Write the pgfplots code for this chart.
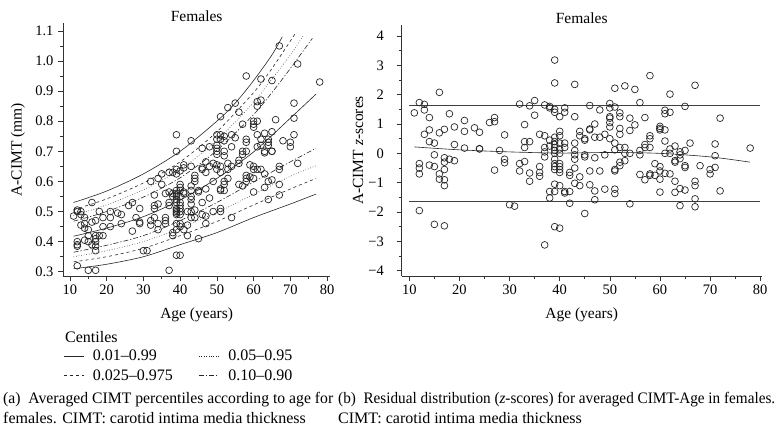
\documentclass[border=0pt]{standalone}
\usepackage{fontspec}
\setmainfont{Liberation Serif}
\usepackage{graphicx}
\usepackage{pgfplots}
\pgfplotsset{compat=1.18}
\begin{document}
\fontsize{14bp}{17bp}\selectfont
\begin{tikzpicture}
\path[use as bounding box] (0,0) rectangle (782bp,-440bp);
\pgfplotsset{
  common/.style={
    scale only axis,
    anchor=south west,
    axis lines*=left,
    axis line style={black!80, line width=0.6bp},
    tick align=outside,
    major tick length=5bp,
    minor tick length=3bp,
    tick style={black!80, line width=0.6bp},
    minor x tick num=1,
    minor y tick num=1,
    /pgf/number format/assume math mode=true,
    tick label style={font=\fontsize{14.5bp}{17bp}\selectfont},
    label style={font=\fontsize{15.5bp}{18bp}\selectfont},
    title style={font=\fontsize{15.5bp}{18bp}\selectfont, at={(0.5,1)}, anchor=base, yshift=-4bp},
    xtick={10,20,...,80},
    xticklabel style={anchor=base, yshift=-13bp},
    xlabel style={at={(axis description cs:0.5,0)}, anchor=base, yshift=-42bp},
    clip=false,
  },
  pts/.style={only marks, mark=o, mark size=3.4bp, black!85, mark options={line width=0.7bp}},
  dashdot/.style={dash pattern=on 5bp off 2bp on 1.2bp off 2bp},
}
% ---------------- left panel ----------------
\begin{axis}[common,
  at={(63.3bp,-276bp)}, width=266.7bp, height=252.7bp,
  xmin=8.2, xmax=80.8, ymin=0.286, ymax=1.125,
  ytick={0.3,0.4,...,1.1},
  yticklabel style={/pgf/number format/fixed, /pgf/number format/fixed zerofill, /pgf/number format/precision=1},
  title={Females},
  xlabel={Age (years)},
  ylabel={A-CIMT (mm)},
  ylabel style={at={(axis description cs:-0.17,0.5)}, anchor=center},
  legend columns=2,
  legend cell align=left,
  legend style={draw=none, fill=none, at={(axis description cs:-0.012,-0.277)}, anchor=north west,
    font=\fontsize{16bp}{18bp}\selectfont, row sep=2.5bp,
    /tikz/every even column/.append style={column sep=24bp}},
  legend image code/.code={\draw[#1, line width=0.6bp] (0bp,0bp) -- (20bp,0bp); \path (27bp,0bp);},
]
\addlegendimage{black!85, solid}
\addlegendentry{0.01--0.99}
\addlegendimage{black!85, dotted}
\addlegendentry{0.05--0.95}
\addlegendimage{black!85, dashed}
\addlegendentry{0.025--0.975}
\addlegendimage{black!85, dashdot}
\addlegendentry{0.10--0.90}
% centile curves
\addplot[forget plot, smooth, black!85, line width=0.6bp] coordinates {(11,0.530) (20,0.568) (30,0.625) (40,0.700) (50,0.800) (55,0.860) (60,0.935) (65,1.020) (67.8,1.080)};
\addplot[forget plot, smooth, black!85, line width=0.6bp, dashed] coordinates {(11,0.506) (20,0.542) (30,0.595) (40,0.665) (50,0.765) (60,0.895) (65,0.975) (71.3,1.090)};
\addplot[forget plot, smooth, black!85, line width=0.6bp, dotted] coordinates {(11,0.487) (20,0.522) (30,0.572) (40,0.640) (50,0.737) (60,0.862) (65,0.940) (70,1.020) (73.6,1.085)};
\addplot[forget plot, smooth, black!85, line width=0.6bp, dashdot] coordinates {(11,0.468) (20,0.500) (30,0.548) (40,0.612) (50,0.703) (60,0.822) (65,0.895) (70,0.975) (76,1.075)};
\addplot[forget plot, smooth, black!85, line width=0.6bp] coordinates {(11,0.418) (20,0.445) (30,0.483) (40,0.538) (50,0.610) (60,0.698) (70,0.810) (77,0.890)};
\addplot[forget plot, smooth, black!85, line width=0.6bp, dashdot] coordinates {(11,0.365) (20,0.388) (30,0.420) (40,0.470) (50,0.530) (60,0.598) (70,0.665) (77,0.710)};
\addplot[forget plot, smooth, black!85, line width=0.6bp, dotted] coordinates {(11,0.350) (20,0.370) (30,0.400) (40,0.445) (50,0.497) (60,0.557) (70,0.617) (77,0.652)};
\addplot[forget plot, smooth, black!85, line width=0.6bp, dashed] coordinates {(11,0.333) (20,0.350) (30,0.378) (40,0.420) (50,0.467) (60,0.522) (70,0.575) (77,0.610)};
\addplot[forget plot, smooth, black!85, line width=0.6bp] coordinates {(11,0.310) (20,0.325) (30,0.350) (40,0.390) (50,0.430) (60,0.480) (70,0.525) (77,0.558)};
% observations
\addplot[forget plot, pts] table {
x y
11 0.485
12 0.505
12 0.500
12 0.400
12 0.390
12 0.385
12 0.320
13 0.500
13 0.490
13 0.455
14 0.480
14 0.460
14 0.445
14 0.405
15 0.440
15 0.420
15 0.400
15 0.305
16 0.530
16 0.465
16 0.390
17 0.470
17 0.420
17 0.410
17 0.400
17 0.385
17 0.370
17 0.305
18 0.500
18 0.420
19 0.480
19 0.450
19 0.420
21 0.500
21 0.480
21 0.450
23 0.495
24 0.490
24 0.460
26 0.520
27 0.530
27 0.435
28 0.480
29 0.510
29 0.465
29 0.460
30 0.370
31 0.370
32 0.600
32 0.470
32 0.455
33 0.555
33 0.520
33 0.510
33 0.480
34 0.610
34 0.525
34 0.460
34 0.440
35 0.625
35 0.590
36 0.560
36 0.480
36 0.470
36 0.460
37 0.630
37 0.565
37 0.530
37 0.520
37 0.305
38 0.630
38 0.560
38 0.550
38 0.430
38 0.420
39 0.755
39 0.700
39 0.640
39 0.625
39 0.570
39 0.560
39 0.555
39 0.550
39 0.540
39 0.530
39 0.510
39 0.505
39 0.500
39 0.495
39 0.490
39 0.460
39 0.440
39 0.355
40 0.635
40 0.590
40 0.580
40 0.570
40 0.550
40 0.530
40 0.520
40 0.510
40 0.500
40 0.490
40 0.460
40 0.450
40 0.355
41 0.655
41 0.645
41 0.565
41 0.560
41 0.440
42 0.500
42 0.455
42 0.420
43 0.735
43 0.650
43 0.585
43 0.570
43 0.550
43 0.540
43 0.525
43 0.500
43 0.480
44 0.620
44 0.610
44 0.600
44 0.505
44 0.480
45 0.570
45 0.565
45 0.410
46 0.710
46 0.645
46 0.640
46 0.530
46 0.490
47 0.665
47 0.630
47 0.575
47 0.485
47 0.460
48 0.715
48 0.650
48 0.545
49 0.660
49 0.600
49 0.500
50 0.755
50 0.740
50 0.720
50 0.710
50 0.700
50 0.690
50 0.655
50 0.640
51 0.815
51 0.755
51 0.740
51 0.650
51 0.630
51 0.575
51 0.570
51 0.510
51 0.500
52 0.750
52 0.735
52 0.700
52 0.685
52 0.600
52 0.590
52 0.570
53 0.845
53 0.660
53 0.640
53 0.610
54 0.755
54 0.715
54 0.650
54 0.480
55 0.860
55 0.745
56 0.830
56 0.670
56 0.660
56 0.590
57 0.790
57 0.700
57 0.690
57 0.585
58 0.950
58 0.740
58 0.730
58 0.700
58 0.620
58 0.610
58 0.600
59 0.655
59 0.615
60 0.800
60 0.790
60 0.780
60 0.650
60 0.640
60 0.610
60 0.565
61 0.865
61 0.850
61 0.800
61 0.755
61 0.715
61 0.640
62 0.940
62 0.870
62 0.740
62 0.720
62 0.640
63 0.760
63 0.700
63 0.695
63 0.625
63 0.580
64 0.740
64 0.730
64 0.720
64 0.600
64 0.540
65 0.935
65 0.765
65 0.700
65 0.700
65 0.605
66 0.805
67 1.050
67 0.650
67 0.640
67 0.590
67 0.555
68 0.735
70 0.730
70 0.715
71 0.860
71 0.810
71 0.755
72 0.990
72 0.660
78 0.930
};
\end{axis}
% ---------------- right panel ----------------
\begin{axis}[common,
  at={(401.7bp,-276bp)}, width=360bp, height=251bp,
  xmin=8.48, xmax=80.3, ymin=-4.18, ymax=4.375,
  ytick={-4,-3,...,4},
  yticklabels={−4,−3,−2,−1,0,1,2,3,4},
  yticklabel style={xshift=-8bp},
  title={Females},
  xlabel={Age (years)},
  ylabel={A-CIMT \textit{z}-scores},
  ylabel style={at={(axis description cs:-0.121,0.5)}, anchor=center},
]
\addplot[black!75, line width=0.8bp] coordinates {(10,1.645) (80,1.645)};
\addplot[black!75, line width=0.8bp] coordinates {(10,-1.63) (80,-1.63)};
\addplot[smooth, black!85, line width=0.6bp] coordinates {(11,0.22) (20,0.12) (30,0.05) (40,0.01) (50,0.03) (60,0.0) (70,-0.12) (78,-0.30)};
\addplot[pts] table {
x y
11 1.38
12 1.73
12 -0.35
12 -0.50
12 -0.70
12 -1.95
13 1.67
13 1.48
13 0.65
14 1.22
14 0.80
14 0.40
14 -0.40
15 0.35
15 -0.05
15 -0.45
15 -2.42
16 2.08
16 0.70
16 -0.70
16 -0.88
17 0.82
17 -0.15
17 -0.30
17 -0.55
17 -0.90
17 -1.10
17 -2.47
18 1.35
18 -0.20
19 0.90
19 0.30
19 -0.25
21 1.12
21 0.75
21 0.18
23 0.87
24 0.72
24 0.15
24 0.16
26 1.05
27 1.22
27 1.08
27 -0.57
28 0.10
29 0.63
29 -0.20
29 -0.32
30 -1.75
31 -1.80
32 1.68
32 -0.35
32 -0.60
33 0.98
33 0.40
33 0.20
33 -0.28
34 1.62
34 0.40
34 -0.67
34 -0.95
35 1.80
35 1.30
36 0.65
36 -0.45
36 -0.65
36 -0.78
37 1.65
37 0.60
37 0.20
37 0.05
37 -0.12
37 -3.12
38 1.60
38 1.55
38 0.45
38 0.25
38 -1.30
38 -1.52
39 3.18
39 2.40
39 1.50
39 1.40
39 0.55
39 0.40
39 0.30
39 0.20
39 0.10
39 0.00
39 -0.20
39 -0.35
39 -0.45
39 -0.55
39 -1.05
39 -1.30
39 -2.50
40 1.25
40 0.75
40 0.60
40 0.35
40 0.15
40 0.00
40 -0.35
40 -0.45
40 -0.55
40 -0.65
40 -1.10
40 -2.55
41 1.55
41 1.40
41 0.35
41 0.20
41 -1.30
41 -1.35
42 -0.65
42 -0.75
42 -1.30
42 -1.70
43 2.35
43 1.25
43 0.35
43 0.10
43 -0.05
43 -0.20
43 -0.50
43 -1.02
44 0.75
44 0.60
44 -0.80
44 -1.10
45 0.50
45 0.45
45 -0.05
45 -0.12
45 -2.05
46 1.63
46 0.83
46 0.80
46 -0.60
46 -1.07
47 1.00
47 0.55
47 -0.15
47 -1.28
47 -1.58
48 1.48
48 0.55
48 -0.60
49 0.65
49 -0.05
49 -1.22
50 1.70
50 1.55
50 1.25
50 1.20
50 1.05
50 0.90
50 0.50
51 2.22
51 1.58
51 0.35
51 0.12
51 -0.55
51 -0.60
51 -1.22
51 -1.37
52 1.38
52 1.25
52 0.85
52 0.65
52 0.20
52 -0.30
52 -0.42
53 2.30
53 0.20
53 0.00
53 -0.25
54 1.20
54 0.78
54 0.00
54 -1.72
55 2.18
55 0.97
56 1.73
56 0.10
56 -0.05
56 -0.72
57 1.22
57 0.30
57 0.20
57 -0.90
58 2.65
58 0.60
58 0.50
58 0.20
58 -0.70
58 -0.75
59 -0.35
59 -0.75
60 0.92
60 0.85
60 0.80
60 -0.45
60 -0.60
60 -0.88
60 -1.32
61 1.47
61 1.35
61 0.80
61 0.42
61 0.00
61 -0.68
62 2.02
62 1.40
62 0.15
62 0.00
62 -0.70
63 0.25
63 -0.25
63 -0.30
63 -0.95
63 -1.33
64 0.05
64 -0.05
64 -0.18
64 -1.20
64 -1.78
65 1.60
65 0.10
65 -0.42
65 -0.48
65 -1.25
66 0.35
67 2.32
67 -0.95
67 -1.10
67 -1.55
67 -1.82
68 -0.42
70 -0.55
70 -0.70
71 0.32
71 -0.08
71 -0.48
72 1.20
72 -1.28
78 0.18
};
\end{axis}
% ---------------- legend title and captions ----------------
\node[anchor=base west, inner sep=0pt, font=\fontsize{16bp}{18bp}\selectfont] at (65bp,-342bp) {Centiles};
\begin{scope}[every node/.style={font=\fontsize{16bp}{19bp}\selectfont}]
\node[anchor=base west, inner sep=0pt] at (3bp,-403bp) {\resizebox{330bp}{\height}{(a)\enspace Averaged CIMT percentiles according to age for}};
\node[anchor=base west, inner sep=0pt] at (3bp,-423bp) {females. CIMT: carotid intima media thickness};
\node[anchor=base west, inner sep=0pt] at (338bp,-403bp) {\resizebox{437bp}{\height}{(b)\enspace Residual distribution (\textit{z}-scores) for averaged CIMT-Age in females.}};
\node[anchor=base west, inner sep=0pt] at (338bp,-423bp) {CIMT: carotid intima media thickness};
\end{scope}
\end{tikzpicture}
\end{document}
